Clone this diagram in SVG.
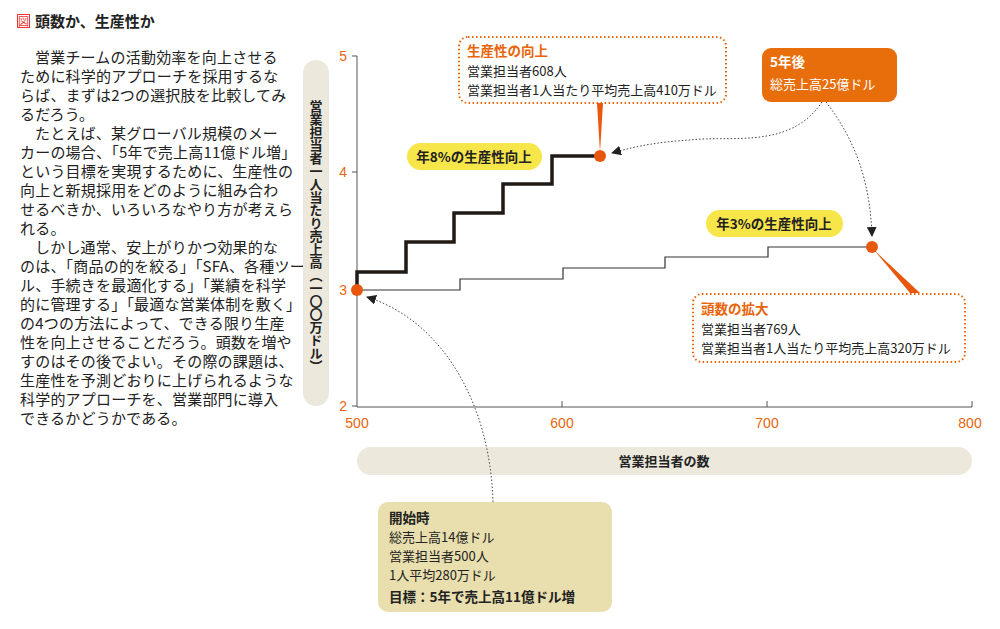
<svg xmlns="http://www.w3.org/2000/svg" width="1000" height="629" viewBox="0 0 1000 629">
<defs>
<style>
.t{font-family:"Noto Sans CJK JP","Liberation Sans",sans-serif}
.body{font-size:15px;fill:#222;font-family:"Noto Sans CJK JP",sans-serif;letter-spacing:0.2px}
.tick{font-size:14px;fill:#e8650a;font-family:"Liberation Sans",sans-serif}
.lbl{font-size:13px;fill:#222}
.hd{font-size:13.5px;font-weight:bold}
.dot{fill:#e8580c}
.grid{stroke:#555;stroke-width:1;fill:none}
.dash{stroke:#444;stroke-width:1;stroke-dasharray:1.5 2;fill:none}
.callout{fill:#fff;stroke:#e8650a;stroke-width:2;stroke-dasharray:1.5 2.5}
</style>
<marker id="ah" viewBox="0 0 10 10" refX="9" refY="5" markerWidth="10" markerHeight="10" markerUnits="userSpaceOnUse" orient="auto"><path d="M0,0L10,5L0,10z" fill="#222"/></marker>
</defs>
<rect width="1000" height="629" fill="#fff"/>
<g id="title">
<rect x="17.5" y="14.5" width="12" height="13" fill="none" stroke="#e33" stroke-width="1"/>
<text x="23.5" y="25.5" class="t" font-size="11" fill="#e33" text-anchor="middle">図</text>
<text x="35" y="27" class="t" font-size="15" font-weight="bold" fill="#222">頭数か、生産性か</text>
</g>
<g id="bodytext" class="body">
<text x="35" y="63">営業チームの活動効率を向上させる</text>
<text x="20" y="82">ために科学的アプローチを採用するな</text>
<text x="20" y="101">らば、まずは2つの選択肢を比較してみ</text>
<text x="20" y="120">るだろう。</text>
<text x="35" y="139">たとえば、某グローバル規模のメー</text>
<text x="20" y="158">カーの場合、「5年で売上高11億ドル増」</text>
<text x="20" y="177">という目標を実現するために、生産性の</text>
<text x="20" y="196">向上と新規採用をどのように組み合わ</text>
<text x="20" y="215">せるべきか、いろいろなやり方が考えら</text>
<text x="20" y="234">れる。</text>
<text x="35" y="253">しかし通常、安上がりかつ効果的な</text>
<text x="20" y="272">のは、「商品の的を絞る」「SFA、各種ツー</text>
<text x="20" y="291">ル、手続きを最適化する」「業績を科学</text>
<text x="20" y="310">的に管理する」「最適な営業体制を敷く」</text>
<text x="20" y="329">の4つの方法によって、できる限り生産</text>
<text x="20" y="348">性を向上させることだろう。頭数を増や</text>
<text x="20" y="367">すのはその後でよい。その際の課題は、</text>
<text x="20" y="386">生産性を予測どおりに上げられるような</text>
<text x="20" y="405">科学的アプローチを、営業部門に導入</text>
<text x="20" y="424">できるかどうかである。</text>
</g>
<g id="yaxis-label">
<rect x="303" y="60" width="26" height="346" rx="13" fill="#ece9dc"/>
<text x="316" y="100" class="t" font-size="13" font-weight="bold" fill="#222" writing-mode="tb" glyph-orientation-vertical="0">営業担当者一人当たり売上高（一〇〇万ドル）</text>
</g>
<g id="xaxis-label">
<rect x="357" y="447" width="615" height="28" rx="14" fill="#ece9dc"/>
<text x="664" y="466" class="t" font-size="13" font-weight="bold" fill="#222" text-anchor="middle">営業担当者の数</text>
</g>
<g id="axes">
<path class="grid" d="M357,56V407H972M562,401V407M767,401V407M972,401V407M352,56H357M352,172H357M352,290H357M352,406H357"/>
<text class="tick" x="347" y="61" text-anchor="end">5</text>
<text class="tick" x="347" y="177" text-anchor="end">4</text>
<text class="tick" x="347" y="295" text-anchor="end">3</text>
<text class="tick" x="347" y="411" text-anchor="end">2</text>
<text class="tick" x="357" y="428" text-anchor="middle">500</text>
<text class="tick" x="562" y="428" text-anchor="middle">600</text>
<text class="tick" x="767" y="428" text-anchor="middle">700</text>
<text class="tick" x="970" y="428" text-anchor="middle">800</text>
</g>
<g id="connectors">
<path d="M357,290V272H406V242H454V213H503V184H552V156H600" fill="none" stroke="#221a16" stroke-width="3.5"/>
<path d="M357,290H460V279H563V268H665V257H768V247H872" fill="none" stroke="#333" stroke-width="1.2"/>
<path class="dash" d="M493,502C490,400 440,320 367,297" marker-end="url(#ah)"/>
<path class="dash" d="M822,102C790,150 730,135 690,140C660,142 640,145 612,153" marker-end="url(#ah)"/>
<path class="dash" d="M826,102C855,140 870,180 872,236" marker-end="url(#ah)"/>
<path d="M597,103L603,103L600,152z" fill="#e8580c"/>
<path d="M874,250L910,293L920,293z" fill="#e8580c"/>
</g>
<g id="dot-start"><circle class="dot" cx="357" cy="290" r="6"/></g>
<g id="dot-prod"><circle class="dot" cx="600" cy="156" r="6"/></g>
<g id="dot-head"><circle class="dot" cx="872" cy="247" r="6"/></g>
<g id="pill8">
<rect x="407" y="143" width="135" height="27" rx="13.5" fill="#f7e64a"/>
<text x="474" y="162" class="t" font-size="13.5" font-weight="bold" fill="#222" text-anchor="middle">年8%の生産性向上</text>
</g>
<g id="pill3">
<rect x="706" y="210" width="137" height="27" rx="13.5" fill="#f7e64a"/>
<text x="774" y="229" class="t" font-size="13.5" font-weight="bold" fill="#222" text-anchor="middle">年3%の生産性向上</text>
</g>
<g id="callout-prod" class="t">
<rect class="callout" x="459" y="37" width="267" height="66" rx="9"/>
<text x="467" y="56" class="hd" fill="#e8650a">生産性の向上</text>
<text x="467" y="76" class="lbl">営業担当者608人</text>
<text x="467" y="95" class="lbl">営業担当者1人当たり平均売上高410万ドル</text>
</g>
<g id="callout-5y" class="t">
<rect x="762" y="48" width="135" height="54" rx="9" fill="#e86e0c"/>
<text x="770" y="67" class="hd" fill="#fff">5年後</text>
<text x="770" y="89" class="lbl" style="fill:#fff">総売上高25億ドル</text>
</g>
<g id="callout-head" class="t">
<rect class="callout" x="693" y="294" width="272" height="68" rx="9"/>
<text x="701" y="314" class="hd" fill="#e8650a">頭数の拡大</text>
<text x="701" y="334" class="lbl">営業担当者769人</text>
<text x="701" y="353" class="lbl">営業担当者1人当たり平均売上高320万ドル</text>
</g>
<g id="callout-start" class="t">
<rect x="378" y="502" width="234" height="110" rx="10" fill="#e9dfae"/>
<text x="389" y="523" class="hd" fill="#222">開始時</text>
<text x="389" y="542" class="lbl">総売上高14億ドル</text>
<text x="389" y="561" class="lbl">営業担当者500人</text>
<text x="389" y="580" class="lbl">1人平均280万ドル</text>
<text x="389" y="602" class="hd" fill="#222">目標：5年で売上高11億ドル増</text>
</g>
</svg>
